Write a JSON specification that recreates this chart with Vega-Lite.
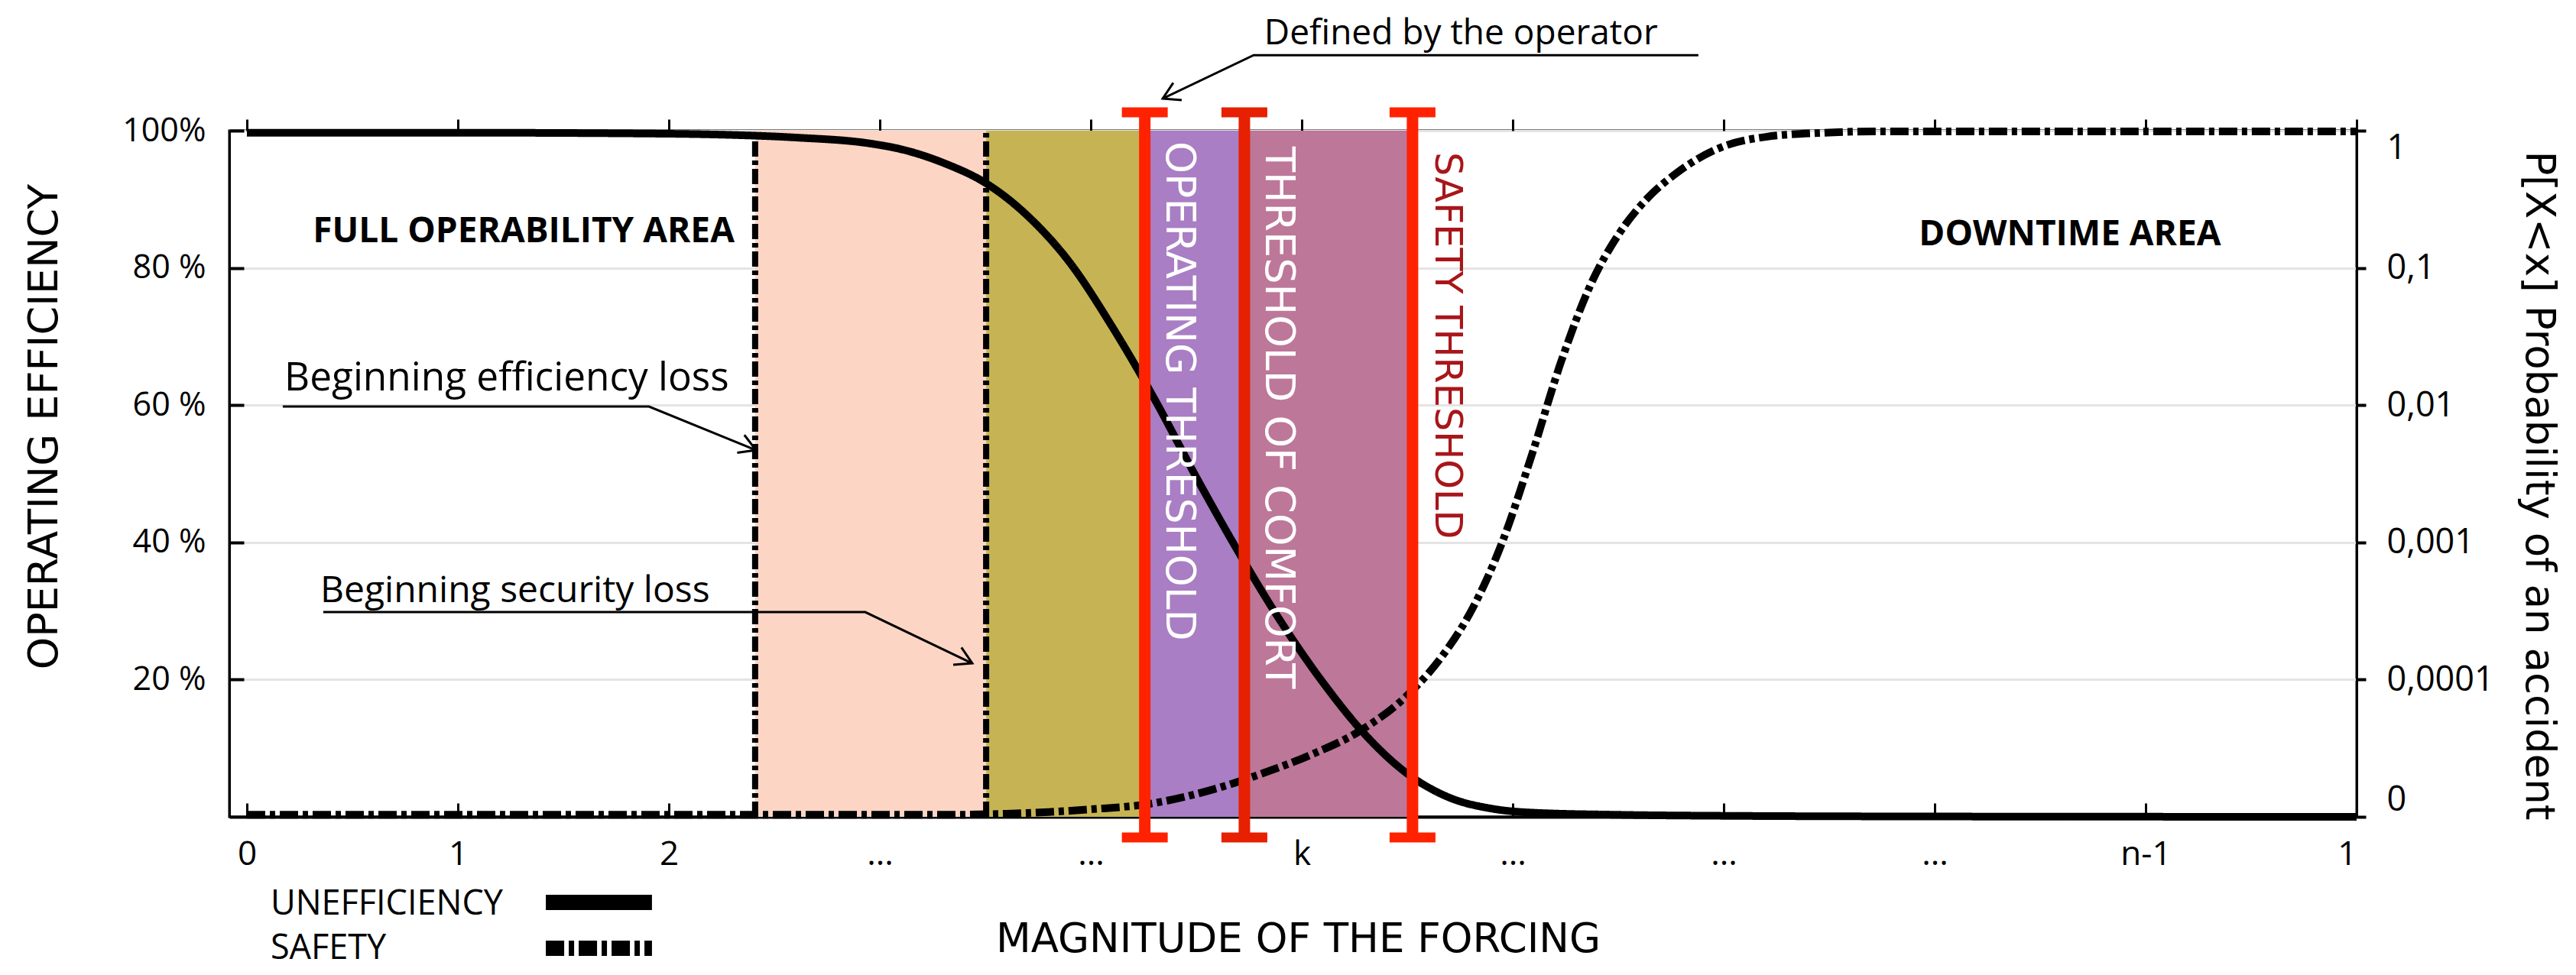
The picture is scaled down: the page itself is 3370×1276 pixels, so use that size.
{
  "$schema": "https://vega.github.io/schema/vega-lite/v6.json",
  "width": 2783,
  "height": 898,
  "autosize": "none",
  "padding": {"left": 300, "top": 171, "right": 287, "bottom": 207},
  "background": "white",
  "config": {
    "view": {"stroke": "black", "strokeWidth": 3},
    "axis": {"domainColor": "black", "tickColor": "black", "labelColor": "black", "titleColor": "black"}
  },
  "datasets": {
    "bands": [
      {"zone": "Efficiency loss", "start": 2.409, "end": 3.504},
      {"zone": "Security loss", "start": 3.504, "end": 4.256},
      {"zone": "Operating", "start": 4.256, "end": 4.728},
      {"zone": "Comfort", "start": 4.728, "end": 5.525}
    ],
    "limits": [
      {"name": "Beginning efficiency loss", "x": 2.409},
      {"name": "Beginning security loss", "x": 3.504}
    ],
    "thresholds": [
      {"name": "Operating threshold", "x": 4.256},
      {"name": "Threshold of comfort", "x": 4.728},
      {"name": "Safety threshold", "x": 5.525}
    ],
    "bandLabels": [
      {"label": "OPERATING THRESHOLD", "x": 4.417, "y": 98.44},
      {"label": "THRESHOLD OF COMFORT", "x": 4.888, "y": 97.66},
      {"label": "SAFETY THRESHOLD", "x": 5.688, "y": 96.88}
    ],
    "curves": [
      {"series": "UNEFFICIENCY", "x": 0, "y": 99.7},
      {"series": "UNEFFICIENCY", "x": 1, "y": 99.7},
      {"series": "UNEFFICIENCY", "x": 2, "y": 99.55},
      {"series": "UNEFFICIENCY", "x": 2.27, "y": 99.4},
      {"series": "UNEFFICIENCY", "x": 2.6, "y": 99.0},
      {"series": "UNEFFICIENCY", "x": 2.96, "y": 98.1},
      {"series": "UNEFFICIENCY", "x": 3.1, "y": 97.3},
      {"series": "UNEFFICIENCY", "x": 3.31, "y": 95.2},
      {"series": "UNEFFICIENCY", "x": 3.5, "y": 92.4},
      {"series": "UNEFFICIENCY", "x": 3.7, "y": 87.6},
      {"series": "UNEFFICIENCY", "x": 3.9, "y": 80.8},
      {"series": "UNEFFICIENCY", "x": 4.1, "y": 71.5},
      {"series": "UNEFFICIENCY", "x": 4.3, "y": 61.0},
      {"series": "UNEFFICIENCY", "x": 4.5, "y": 49.5},
      {"series": "UNEFFICIENCY", "x": 4.7, "y": 38.6},
      {"series": "UNEFFICIENCY", "x": 4.9, "y": 28.5},
      {"series": "UNEFFICIENCY", "x": 5.1, "y": 19.6},
      {"series": "UNEFFICIENCY", "x": 5.3, "y": 12.0},
      {"series": "UNEFFICIENCY", "x": 5.5, "y": 6.3},
      {"series": "UNEFFICIENCY", "x": 5.7, "y": 2.8},
      {"series": "UNEFFICIENCY", "x": 5.9, "y": 1.2},
      {"series": "UNEFFICIENCY", "x": 6.1, "y": 0.6},
      {"series": "UNEFFICIENCY", "x": 6.5, "y": 0.3},
      {"series": "UNEFFICIENCY", "x": 7.0, "y": 0.15},
      {"series": "UNEFFICIENCY", "x": 8.0, "y": 0.05},
      {"series": "UNEFFICIENCY", "x": 10.0, "y": 0.0},
      {"series": "SAFETY", "x": 0, "y": 0.3},
      {"series": "SAFETY", "x": 3.3, "y": 0.3},
      {"series": "SAFETY", "x": 3.6, "y": 0.45},
      {"series": "SAFETY", "x": 3.8, "y": 0.7},
      {"series": "SAFETY", "x": 4.0, "y": 1.1},
      {"series": "SAFETY", "x": 4.28, "y": 1.9},
      {"series": "SAFETY", "x": 4.58, "y": 4.0},
      {"series": "SAFETY", "x": 4.82, "y": 6.4},
      {"series": "SAFETY", "x": 5.04, "y": 9.0},
      {"series": "SAFETY", "x": 5.28, "y": 12.6},
      {"series": "SAFETY", "x": 5.51, "y": 18.0},
      {"series": "SAFETY", "x": 5.67, "y": 23.6},
      {"series": "SAFETY", "x": 5.81, "y": 30.4},
      {"series": "SAFETY", "x": 5.95, "y": 40.0},
      {"series": "SAFETY", "x": 6.09, "y": 52.7},
      {"series": "SAFETY", "x": 6.23, "y": 66.4},
      {"series": "SAFETY", "x": 6.37, "y": 77.6},
      {"series": "SAFETY", "x": 6.5, "y": 84.8},
      {"series": "SAFETY", "x": 6.64, "y": 90.2},
      {"series": "SAFETY", "x": 6.78, "y": 93.9},
      {"series": "SAFETY", "x": 6.99, "y": 97.6},
      {"series": "SAFETY", "x": 7.2, "y": 99.1},
      {"series": "SAFETY", "x": 7.48, "y": 99.7},
      {"series": "SAFETY", "x": 7.71, "y": 99.9},
      {"series": "SAFETY", "x": 10.0, "y": 99.9}
    ],
    "annotations": [
      {"text": "Defined by the operator", "x": 4.822, "y": 112.6},
      {"text": "Beginning efficiency loss", "x": 0.178, "y": 62.1},
      {"text": "Beginning security loss", "x": 0.348, "y": 31.3}
    ],
    "leaders": [
      {"id": "op", "order": 1, "x": 6.88, "y": 111.0},
      {"id": "op", "order": 2, "x": 4.772, "y": 111.0},
      {"id": "op", "order": 3, "x": 4.341, "y": 104.68},
      {"id": "op_head", "order": 1, "x": 4.431, "y": 104.45},
      {"id": "op_head", "order": 2, "x": 4.341, "y": 104.68},
      {"id": "op_head", "order": 3, "x": 4.391, "y": 106.98},
      {"id": "eff", "order": 1, "x": 0.17, "y": 59.8},
      {"id": "eff", "order": 2, "x": 1.906, "y": 59.8},
      {"id": "eff", "order": 3, "x": 2.413, "y": 53.45},
      {"id": "eff_head", "order": 1, "x": 2.358, "y": 55.65},
      {"id": "eff_head", "order": 2, "x": 2.413, "y": 53.45},
      {"id": "eff_head", "order": 3, "x": 2.324, "y": 53.07},
      {"id": "sec", "order": 1, "x": 0.362, "y": 29.84},
      {"id": "sec", "order": 2, "x": 2.931, "y": 29.84},
      {"id": "sec", "order": 3, "x": 3.438, "y": 22.38},
      {"id": "sec_head", "order": 1, "x": 3.387, "y": 24.68},
      {"id": "sec_head", "order": 2, "x": 3.438, "y": 22.38},
      {"id": "sec_head", "order": 3, "x": 3.348, "y": 22.17}
    ],
    "areaLabels": [
      {"text": "FULL OPERABILITY AREA", "x": 1.312, "y": 83.7},
      {"text": "DOWNTIME AREA", "x": 8.641, "y": 83.3}
    ],
    "legend": [
      {"series": "UNEFFICIENCY", "tx": 0.112, "ty": -14.25, "x1": 1.417, "x2": 1.92, "ly": -12.47},
      {"series": "SAFETY", "tx": 0.112, "ty": -20.71, "x1": 1.417, "x2": 1.92, "ly": -19.15}
    ]
  },
  "resolve": {
    "axis": {"x": "independent", "y": "independent"},
    "scale": {"color": "independent", "size": "independent"}
  },
  "layer": [
    {
      "data": {"name": "bands"},
      "mark": {"type": "rect"},
      "encoding": {
        "x": {
          "field": "start", "type": "quantitative",
          "scale": {"domain": [-0.0833, 10], "nice": false, "zero": false},
          "axis": {
            "orient": "bottom",
            "values": [0, 1, 2, 3, 4, 5, 6, 7, 8, 9, 10],
            "labelExpr": "['0','1','2','...','...','k','...','...','...','n-1','1'][datum.value]",
            "labelFont": "Open Sans", "labelFontSize": 44, "labelPadding": 45,
            "tickSize": -18, "tickWidth": 3, "domainWidth": 4, "grid": false,
            "title": "MAGNITUDE OF THE FORCING",
            "titleFont": "DejaVu Sans", "titleFontSize": 53, "titleFontWeight": "normal",
            "titleX": 1398, "titleY": 176, "titleBaseline": "alphabetic", "titleAlign": "center", "titleAngle": 0
          }
        },
        "x2": {"field": "end"},
        "y": {
          "datum": 0, "type": "quantitative",
          "scale": {"domain": [0, 100], "nice": false, "zero": false},
          "axis": {
            "orient": "left",
            "values": [20, 40, 60, 80, 100],
            "labelExpr": "datum.value == 100 ? '100%' : datum.value + ' %'",
            "labelFont": "Open Sans", "labelFontSize": 43, "labelPadding": 50,
            "tickSize": -19, "tickWidth": 4, "domainWidth": 3,
            "grid": true, "gridColor": "#e4e4e4", "gridWidth": 3,
            "title": "OPERATING EFFICIENCY",
            "titleFont": "DejaVu Sans", "titleFontSize": 54, "titleFontWeight": "normal",
            "titleX": -226, "titleY": 387, "titleBaseline": "alphabetic", "titleAlign": "center", "titleAngle": -90
          }
        },
        "y2": {"datum": 100},
        "color": {
          "field": "zone", "type": "nominal",
          "scale": {"domain": ["Efficiency loss", "Security loss", "Operating", "Comfort"], "range": ["#FCD5C5", "#C6B454", "#A97EC4", "#BD7799"]},
          "legend": null
        }
      }
    },
    {
      "data": {"name": "limits"},
      "mark": {"type": "rule", "color": "black", "strokeWidth": 8, "strokeDash": [20, 5, 6, 5]},
      "encoding": {
        "x": {"field": "x", "type": "quantitative", "scale": {"domain": [-0.0833, 10], "nice": false, "zero": false}, "axis": null},
        "y": {"datum": 0, "type": "quantitative", "scale": {"domain": [0, 100], "nice": false, "zero": false}, "axis": null},
        "y2": {"datum": 100}
      }
    },
    {
      "data": {"name": "curves"},
      "mark": {"type": "line", "color": "black", "strokeWidth": 10, "interpolate": "monotone", "strokeCap": "butt", "strokeJoin": "round"},
      "encoding": {
        "x": {
          "field": "x", "type": "quantitative",
          "scale": {"domain": [-0.0833, 10], "nice": false, "zero": false},
          "axis": {"orient": "top", "values": [0, 1, 2, 3, 4, 5, 6, 7, 8, 9, 10], "labels": false, "domain": false, "grid": false, "tickSize": 15, "tickWidth": 3, "title": null}
        },
        "y": {
          "field": "y", "type": "quantitative",
          "scale": {"domain": [0, 100], "nice": false, "zero": false},
          "axis": {
            "orient": "right",
            "values": [0, 20, 40, 60, 80, 100],
            "labelExpr": "datum.value == 100 ? '1' : datum.value == 80 ? '0,1' : datum.value == 60 ? '0,01' : datum.value == 40 ? '0,001' : datum.value == 20 ? '0,0001' : '0'",
            "labelFont": "Open Sans", "labelFontSize": 45, "labelPadding": 27, "labelFlush": true,
            "tickSize": 12, "tickWidth": 4, "domainWidth": 3, "grid": false,
            "title": "P[X<x] Probability of an accident",
            "titleFont": "DejaVu Sans", "titleFontSize": 53, "titleFontWeight": "normal",
            "titleX": 221, "titleY": 464, "titleBaseline": "alphabetic", "titleAlign": "center", "titleAngle": 90
          }
        },
        "detail": {"field": "series"},
        "strokeDash": {
          "field": "series", "type": "nominal",
          "scale": {"domain": ["UNEFFICIENCY", "SAFETY"], "range": [[1, 0], [24, 6, 7, 6]]},
          "legend": null
        }
      }
    },
    {
      "data": {"name": "thresholds"},
      "mark": {"type": "rule", "strokeWidth": 15, "strokeCap": "butt"},
      "encoding": {
        "x": {"field": "x", "type": "quantitative", "scale": {"domain": [-0.0833, 10], "nice": false, "zero": false}, "axis": null},
        "y": {"datum": -3.0, "type": "quantitative", "scale": {"domain": [0, 100], "nice": false, "zero": false}, "axis": null},
        "y2": {"datum": 102.67},
        "color": {
          "field": "name", "type": "nominal",
          "scale": {"domain": ["Operating threshold", "Threshold of comfort", "Safety threshold"], "range": ["#FF2200", "#E62000", "#FF2200"]},
          "legend": null
        }
      }
    },
    {
      "data": {"name": "thresholds"},
      "mark": {"type": "tick", "orient": "horizontal", "size": 60, "thickness": 13, "opacity": 1},
      "encoding": {
        "x": {"field": "x", "type": "quantitative", "scale": {"domain": [-0.0833, 10], "nice": false, "zero": false}, "axis": null},
        "y": {"datum": 102.67, "type": "quantitative", "scale": {"domain": [0, 100], "nice": false, "zero": false}, "axis": null},
        "color": {
          "field": "name", "type": "nominal",
          "scale": {"domain": ["Operating threshold", "Threshold of comfort", "Safety threshold"], "range": ["#FF2200", "#E62000", "#FF2200"]},
          "legend": null
        }
      }
    },
    {
      "data": {"name": "thresholds"},
      "mark": {"type": "tick", "orient": "horizontal", "size": 60, "thickness": 13, "opacity": 1},
      "encoding": {
        "x": {"field": "x", "type": "quantitative", "scale": {"domain": [-0.0833, 10], "nice": false, "zero": false}, "axis": null},
        "y": {"datum": -3.0, "type": "quantitative", "scale": {"domain": [0, 100], "nice": false, "zero": false}, "axis": null},
        "color": {
          "field": "name", "type": "nominal",
          "scale": {"domain": ["Operating threshold", "Threshold of comfort", "Safety threshold"], "range": ["#FF2200", "#E62000", "#FF2200"]},
          "legend": null
        }
      }
    },
    {
      "data": {"name": "bandLabels"},
      "mark": {"type": "text", "font": "DejaVu Sans", "angle": 90, "align": "left", "baseline": "middle"},
      "encoding": {
        "x": {"field": "x", "type": "quantitative", "scale": {"domain": [-0.0833, 10], "nice": false, "zero": false}, "axis": null},
        "y": {"field": "y", "type": "quantitative", "scale": {"domain": [0, 100], "nice": false, "zero": false}, "axis": null},
        "text": {"field": "label"},
        "color": {
          "field": "label", "type": "nominal",
          "scale": {"domain": ["OPERATING THRESHOLD", "THRESHOLD OF COMFORT", "SAFETY THRESHOLD"], "range": ["#FFFFFF", "#FFFFFF", "#A8161A"]},
          "legend": null
        },
        "size": {
          "field": "label", "type": "nominal",
          "scale": {"type": "ordinal", "domain": ["OPERATING THRESHOLD", "THRESHOLD OF COMFORT", "SAFETY THRESHOLD"], "range": [53.5, 54, 49.3]},
          "legend": null
        }
      }
    },
    {
      "data": {"name": "leaders"},
      "mark": {"type": "line", "color": "black", "strokeWidth": 3, "strokeJoin": "miter"},
      "encoding": {
        "x": {"field": "x", "type": "quantitative", "scale": {"domain": [-0.0833, 10], "nice": false, "zero": false}, "axis": null},
        "y": {"field": "y", "type": "quantitative", "scale": {"domain": [0, 100], "nice": false, "zero": false}, "axis": null},
        "detail": {"field": "id"},
        "order": {"field": "order"}
      }
    },
    {
      "data": {"name": "annotations"},
      "mark": {"type": "text", "font": "Open Sans", "align": "left", "baseline": "alphabetic", "color": "black"},
      "encoding": {
        "x": {"field": "x", "type": "quantitative", "scale": {"domain": [-0.0833, 10], "nice": false, "zero": false}, "axis": null},
        "y": {"field": "y", "type": "quantitative", "scale": {"domain": [0, 100], "nice": false, "zero": false}, "axis": null},
        "text": {"field": "text"},
        "size": {
          "field": "text", "type": "nominal",
          "scale": {"type": "ordinal", "domain": ["Defined by the operator", "Beginning efficiency loss", "Beginning security loss"], "range": [46, 51.3, 48]},
          "legend": null
        }
      }
    },
    {
      "data": {"name": "areaLabels"},
      "mark": {"type": "text", "font": "Open Sans", "fontSize": 46, "fontWeight": "bold", "align": "center", "baseline": "alphabetic", "color": "black"},
      "encoding": {
        "x": {"field": "x", "type": "quantitative", "scale": {"domain": [-0.0833, 10], "nice": false, "zero": false}, "axis": null},
        "y": {"field": "y", "type": "quantitative", "scale": {"domain": [0, 100], "nice": false, "zero": false}, "axis": null},
        "text": {"field": "text"}
      }
    },
    {
      "data": {"name": "legend"},
      "mark": {"type": "text", "font": "Open Sans", "fontSize": 45, "align": "left", "baseline": "alphabetic", "color": "black"},
      "encoding": {
        "x": {"field": "tx", "type": "quantitative", "scale": {"domain": [-0.0833, 10], "nice": false, "zero": false}, "axis": null},
        "y": {"field": "ty", "type": "quantitative", "scale": {"domain": [0, 100], "nice": false, "zero": false}, "axis": null},
        "text": {"field": "series"}
      }
    },
    {
      "data": {"name": "legend"},
      "mark": {"type": "rule", "color": "black", "strokeWidth": 20, "strokeCap": "butt"},
      "encoding": {
        "x": {"field": "x1", "type": "quantitative", "scale": {"domain": [-0.0833, 10], "nice": false, "zero": false}, "axis": null},
        "x2": {"field": "x2"},
        "y": {"field": "ly", "type": "quantitative", "scale": {"domain": [0, 100], "nice": false, "zero": false}, "axis": null},
        "strokeDash": {"field": "series", "type": "nominal", "legend": null}
      }
    }
  ]
}
